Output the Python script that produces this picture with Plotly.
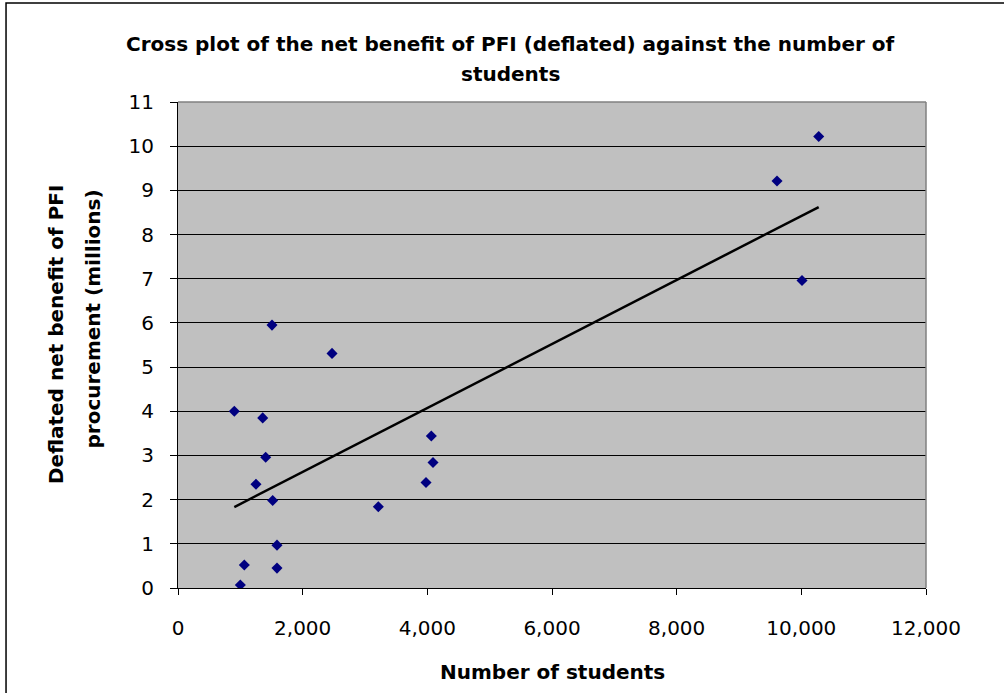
import numpy as np
import plotly.graph_objects as go

# Data
students = [903, 1359, 1407, 1251, 1519, 1588, 1064, 1588, 1000, 1508,
            2471, 3214, 4064, 4091, 3979, 10279, 9610, 10011]
net_benefit = [4.00, 3.85, 2.96, 2.35, 1.98, 0.97, 0.52, 0.45, 0.07, 5.95,
               5.31, 1.84, 3.44, 2.84, 2.39, 10.22, 9.21, 6.96]

x_ticks = [0, 2000, 4000, 6000, 8000, 10000, 12000]
x_tick_text = ["0", "2,000", "4,000", "6,000", "8,000", "10,000", "12,000"]
y_ticks = list(range(0, 12))

title_lines = ["Cross plot of the net benefit of PFI (deflated) against the number of", "students"]
y_title_lines = ["Deflated net benefit of PFI", "procurement (millions)"]
x_title = "Number of students"

# Linear trend line (least squares) across the data range
slope, intercept = np.polyfit(students, net_benefit, 1)
trend_x = [min(students), max(students)]
trend_y = [slope * v + intercept for v in trend_x]

FONT = "DejaVu Sans"

fig = go.Figure()
fig.add_trace(go.Scatter(
    x=trend_x, y=trend_y, mode="lines",
    line=dict(color="black", width=2.5),
    showlegend=False, hoverinfo="skip"))
fig.add_trace(go.Scatter(
    x=students, y=net_benefit, mode="markers",
    marker=dict(symbol="diamond", size=8.5, color="#000080",
                line=dict(width=0)),
    showlegend=False, hoverinfo="x+y"))

fig.update_layout(
    width=1004, height=693,
    margin=dict(l=178, r=78, t=102, b=105),
    paper_bgcolor="white",
    plot_bgcolor="#C0C0C0",
    font=dict(family=FONT, color="black", size=20),
    showlegend=False,
)

fig.update_xaxes(
    range=[0, 12000], tickvals=x_ticks, ticktext=x_tick_text,
    showgrid=False, zeroline=False,
    showline=True, linecolor="black", linewidth=1,
    ticks="outside", ticklen=6, tickcolor="black", tickwidth=1,
    tickfont=dict(family=FONT, size=20, color="black"),
    ticklabelstandoff=16,
)
fig.update_yaxes(
    range=[0, 11], tickvals=y_ticks,
    showgrid=True, gridcolor="black", gridwidth=1,
    zeroline=False,
    showline=True, linecolor="black", linewidth=1,
    ticks="outside", ticklen=7, tickcolor="black", tickwidth=1,
    tickfont=dict(family=FONT, size=20, color="black"),
    ticklabelstandoff=12,
)

# Plot-area top and right border (gray)
fig.add_shape(type="line", xref="paper", yref="paper", x0=0, x1=1, y0=1, y1=1,
              line=dict(color="#808080", width=1.5), layer="above")
fig.add_shape(type="line", xref="paper", yref="paper", x0=1, x1=1, y0=0, y1=1,
              line=dict(color="#808080", width=1.5), layer="above")
# Outer chart border
fig.add_shape(type="rect", xref="paper", yref="paper",
              x0=-0.2299, x1=1.12, y0=-0.24, y1=1.2037,
              line=dict(color="black", width=1.5), fillcolor="rgba(0,0,0,0)",
              layer="above")

# Chart title (two lines)
fig.add_annotation(text="<b>%s</b>" % title_lines[0], xref="paper", yref="paper",
                   x=0.4439, y=1.1193, xanchor="center", yanchor="middle",
                   showarrow=False, font=dict(family=FONT, size=20, color="black"))
fig.add_annotation(text="<b>%s</b>" % title_lines[1], xref="paper", yref="paper",
                   x=0.4439, y=1.0576, xanchor="center", yanchor="middle",
                   showarrow=False, font=dict(family=FONT, size=20, color="black"))

# Y axis title (two rotated lines)
fig.add_annotation(text="<b>%s</b>" % y_title_lines[0], xref="paper", yref="paper",
                   x=-0.1631, y=0.5206, xanchor="center", yanchor="middle",
                   textangle=-90, showarrow=False,
                   font=dict(family=FONT, size=20, color="black"))
fig.add_annotation(text="<b>%s</b>" % y_title_lines[1], xref="paper", yref="paper",
                   x=-0.1143, y=0.5535, xanchor="center", yanchor="middle",
                   textangle=-90, showarrow=False,
                   font=dict(family=FONT, size=20, color="black"))

# X axis title
fig.add_annotation(text="<b>%s</b>" % x_title, xref="paper", yref="paper",
                   x=0.5, y=-0.1728, xanchor="center", yanchor="middle",
                   showarrow=False, font=dict(family=FONT, size=20, color="black"))

fig.write_html("out.html")
